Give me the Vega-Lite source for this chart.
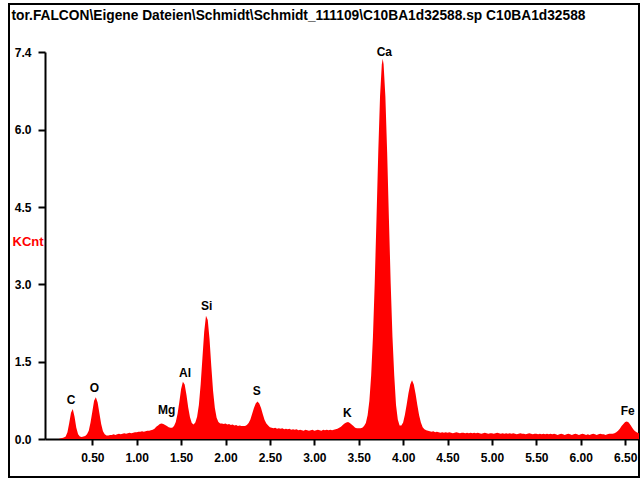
{
"$schema": "https://vega.github.io/schema/vega-lite/v6.json",
"width": 630, "height": 473,
"autosize": {"type": "none"},
"padding": {"left": 9, "top": 4, "right": 3, "bottom": 2},
"background": "white",
"config": {"view": {"stroke": "#000000", "strokeWidth": 2}, "font": "Liberation Sans"},
"resolve": {"axis": {"x": "independent"}},
"layer": [
{"data": {"values": [
{"e":0.12,"c":0.00},{"e":0.14,"c":0.01},{"e":0.16,"c":0.02},{"e":0.18,"c":0.03},{"e":0.20,"c":0.05},{"e":0.22,"c":0.13},{"e":0.24,"c":0.31},{"e":0.26,"c":0.51},{"e":0.28,"c":0.58},{"e":0.30,"c":0.43},{"e":0.32,"c":0.22},{"e":0.34,"c":0.09},{"e":0.36,"c":0.05},{"e":0.38,"c":0.04},{"e":0.40,"c":0.05},
{"e":0.42,"c":0.06},{"e":0.44,"c":0.09},{"e":0.46,"c":0.16},{"e":0.48,"c":0.32},{"e":0.50,"c":0.53},{"e":0.52,"c":0.74},{"e":0.54,"c":0.81},{"e":0.56,"c":0.71},{"e":0.58,"c":0.50},{"e":0.60,"c":0.29},{"e":0.62,"c":0.15},{"e":0.64,"c":0.09},{"e":0.66,"c":0.07},{"e":0.68,"c":0.07},{"e":0.70,"c":0.08},
{"e":0.72,"c":0.08},{"e":0.74,"c":0.09},{"e":0.76,"c":0.08},{"e":0.78,"c":0.09},{"e":0.80,"c":0.10},{"e":0.82,"c":0.09},{"e":0.84,"c":0.10},{"e":0.86,"c":0.11},{"e":0.88,"c":0.10},{"e":0.90,"c":0.11},{"e":0.92,"c":0.12},{"e":0.94,"c":0.11},{"e":0.96,"c":0.12},{"e":0.98,"c":0.13},{"e":1.00,"c":0.13},{"e":1.02,"c":0.14},{"e":1.04,"c":0.14},{"e":1.06,"c":0.15},{"e":1.08,"c":0.14},{"e":1.10,"c":0.15},{"e":1.12,"c":0.16},{"e":1.14,"c":0.16},{"e":1.16,"c":0.17},{"e":1.18,"c":0.18},
{"e":1.20,"c":0.20},{"e":1.22,"c":0.24},{"e":1.24,"c":0.26},{"e":1.26,"c":0.29},{"e":1.28,"c":0.30},{"e":1.30,"c":0.29},{"e":1.32,"c":0.27},{"e":1.34,"c":0.25},{"e":1.36,"c":0.23},{"e":1.38,"c":0.22},
{"e":1.40,"c":0.22},{"e":1.42,"c":0.25},{"e":1.44,"c":0.33},{"e":1.46,"c":0.49},{"e":1.48,"c":0.72},{"e":1.50,"c":0.97},{"e":1.52,"c":1.11},{"e":1.54,"c":1.06},{"e":1.56,"c":0.86},{"e":1.58,"c":0.61},{"e":1.60,"c":0.42},{"e":1.62,"c":0.31},{"e":1.64,"c":0.28},{"e":1.66,"c":0.32},{"e":1.68,"c":0.43},{"e":1.70,"c":0.66},{"e":1.72,"c":1.06},{"e":1.74,"c":1.57},{"e":1.76,"c":2.08},{"e":1.78,"c":2.39},{"e":1.80,"c":2.31},{"e":1.82,"c":1.94},{"e":1.84,"c":1.41},{"e":1.86,"c":0.93},{"e":1.88,"c":0.60},{"e":1.90,"c":0.41},{"e":1.92,"c":0.33},{"e":1.94,"c":0.30},
{"e":1.96,"c":0.30},{"e":1.98,"c":0.29},{"e":2.00,"c":0.30},{"e":2.02,"c":0.28},{"e":2.04,"c":0.29},{"e":2.06,"c":0.27},{"e":2.08,"c":0.28},{"e":2.10,"c":0.26},{"e":2.12,"c":0.27},{"e":2.14,"c":0.25},{"e":2.16,"c":0.26},{"e":2.18,"c":0.25},{"e":2.20,"c":0.25},
{"e":2.22,"c":0.25},{"e":2.24,"c":0.27},{"e":2.26,"c":0.31},{"e":2.28,"c":0.38},{"e":2.30,"c":0.49},{"e":2.32,"c":0.60},{"e":2.34,"c":0.69},{"e":2.36,"c":0.73},{"e":2.38,"c":0.69},{"e":2.40,"c":0.60},{"e":2.42,"c":0.48},{"e":2.44,"c":0.37},{"e":2.46,"c":0.30},{"e":2.48,"c":0.26},{"e":2.50,"c":0.23},{"e":2.52,"c":0.22},
{"e":2.54,"c":0.21},{"e":2.56,"c":0.22},{"e":2.58,"c":0.20},{"e":2.60,"c":0.21},{"e":2.62,"c":0.20},{"e":2.64,"c":0.21},{"e":2.66,"c":0.19},{"e":2.68,"c":0.20},{"e":2.70,"c":0.19},{"e":2.72,"c":0.20},{"e":2.74,"c":0.18},{"e":2.76,"c":0.19},{"e":2.78,"c":0.18},{"e":2.80,"c":0.19},{"e":2.82,"c":0.17},{"e":2.84,"c":0.18},{"e":2.86,"c":0.17},{"e":2.88,"c":0.16},{"e":2.90,"c":0.18},{"e":2.92,"c":0.17},{"e":2.94,"c":0.16},{"e":2.96,"c":0.17},{"e":2.98,"c":0.18},{"e":3.00,"c":0.16},{"e":3.02,"c":0.17},{"e":3.04,"c":0.18},{"e":3.06,"c":0.17},{"e":3.08,"c":0.16},{"e":3.10,"c":0.18},{"e":3.12,"c":0.17},{"e":3.14,"c":0.18},{"e":3.16,"c":0.17},{"e":3.18,"c":0.18},{"e":3.20,"c":0.17},{"e":3.22,"c":0.18},{"e":3.24,"c":0.19},
{"e":3.26,"c":0.20},{"e":3.28,"c":0.22},{"e":3.30,"c":0.24},{"e":3.32,"c":0.27},{"e":3.34,"c":0.30},{"e":3.36,"c":0.32},{"e":3.38,"c":0.33},{"e":3.40,"c":0.31},{"e":3.42,"c":0.28},{"e":3.44,"c":0.25},{"e":3.46,"c":0.22},{"e":3.48,"c":0.21},
{"e":3.50,"c":0.21},{"e":3.52,"c":0.21},{"e":3.54,"c":0.22},{"e":3.56,"c":0.25},{"e":3.58,"c":0.31},{"e":3.60,"c":0.46},{"e":3.62,"c":0.74},{"e":3.64,"c":1.23},{"e":3.66,"c":1.98},{"e":3.68,"c":3.02},{"e":3.70,"c":4.27},{"e":3.72,"c":5.57},{"e":3.74,"c":6.65},{"e":3.76,"c":7.27},{"e":3.77,"c":7.38},{"e":3.78,"c":7.27},{"e":3.80,"c":6.65},{"e":3.82,"c":5.57},{"e":3.84,"c":4.27},{"e":3.86,"c":3.02},{"e":3.88,"c":1.98},{"e":3.90,"c":1.23},{"e":3.92,"c":0.66},{"e":3.94,"c":0.38},{"e":3.96,"c":0.26},{"e":3.98,"c":0.26},{"e":4.00,"c":0.32},
{"e":4.02,"c":0.47},{"e":4.04,"c":0.67},{"e":4.06,"c":0.89},{"e":4.08,"c":1.06},{"e":4.10,"c":1.14},{"e":4.12,"c":1.06},{"e":4.14,"c":0.88},{"e":4.16,"c":0.66},{"e":4.18,"c":0.46},{"e":4.20,"c":0.32},{"e":4.22,"c":0.23},{"e":4.24,"c":0.19},{"e":4.26,"c":0.17},
{"e":4.28,"c":0.16},{"e":4.30,"c":0.15},{"e":4.32,"c":0.14},{"e":4.34,"c":0.15},{"e":4.36,"c":0.13},{"e":4.38,"c":0.14},{"e":4.40,"c":0.13},{"e":4.42,"c":0.12},{"e":4.44,"c":0.13},{"e":4.46,"c":0.12},{"e":4.48,"c":0.13},{"e":4.50,"c":0.12},{"e":4.52,"c":0.13},{"e":4.54,"c":0.12},{"e":4.56,"c":0.11},{"e":4.58,"c":0.12},{"e":4.60,"c":0.13},{"e":4.62,"c":0.12},{"e":4.64,"c":0.11},{"e":4.66,"c":0.12},{"e":4.68,"c":0.12},{"e":4.70,"c":0.11},{"e":4.72,"c":0.12},{"e":4.74,"c":0.11},{"e":4.76,"c":0.12},{"e":4.78,"c":0.11},{"e":4.80,"c":0.12},{"e":4.82,"c":0.11},{"e":4.84,"c":0.12},{"e":4.86,"c":0.11},{"e":4.88,"c":0.10},{"e":4.90,"c":0.11},{"e":4.92,"c":0.12},{"e":4.94,"c":0.11},{"e":4.96,"c":0.10},{"e":4.98,"c":0.11},
{"e":5.00,"c":0.11},{"e":5.02,"c":0.10},{"e":5.04,"c":0.11},{"e":5.06,"c":0.12},{"e":5.08,"c":0.11},{"e":5.10,"c":0.10},{"e":5.12,"c":0.11},{"e":5.14,"c":0.10},{"e":5.16,"c":0.11},{"e":5.18,"c":0.10},{"e":5.20,"c":0.11},{"e":5.22,"c":0.10},{"e":5.24,"c":0.11},{"e":5.26,"c":0.10},{"e":5.28,"c":0.09},{"e":5.30,"c":0.10},{"e":5.32,"c":0.11},{"e":5.34,"c":0.10},{"e":5.36,"c":0.10},{"e":5.38,"c":0.09},{"e":5.40,"c":0.10},{"e":5.42,"c":0.11},{"e":5.44,"c":0.10},{"e":5.46,"c":0.09},{"e":5.48,"c":0.10},
{"e":5.50,"c":0.10},{"e":5.52,"c":0.09},{"e":5.54,"c":0.10},{"e":5.56,"c":0.09},{"e":5.58,"c":0.10},{"e":5.60,"c":0.09},{"e":5.62,"c":0.10},{"e":5.64,"c":0.09},{"e":5.66,"c":0.10},{"e":5.68,"c":0.09},{"e":5.70,"c":0.10},{"e":5.72,"c":0.09},{"e":5.74,"c":0.08},{"e":5.76,"c":0.09},{"e":5.78,"c":0.10},{"e":5.80,"c":0.09},{"e":5.82,"c":0.08},{"e":5.84,"c":0.09},{"e":5.86,"c":0.10},{"e":5.88,"c":0.09},{"e":5.90,"c":0.08},{"e":5.92,"c":0.09},{"e":5.94,"c":0.10},{"e":5.96,"c":0.09},{"e":5.98,"c":0.08},
{"e":6.00,"c":0.09},{"e":6.02,"c":0.10},{"e":6.04,"c":0.09},{"e":6.06,"c":0.08},{"e":6.08,"c":0.09},{"e":6.10,"c":0.08},{"e":6.12,"c":0.09},{"e":6.14,"c":0.10},{"e":6.16,"c":0.09},{"e":6.18,"c":0.08},{"e":6.20,"c":0.09},{"e":6.22,"c":0.10},{"e":6.24,"c":0.09},{"e":6.26,"c":0.09},{"e":6.28,"c":0.08},{"e":6.30,"c":0.09},{"e":6.32,"c":0.10},{"e":6.34,"c":0.10},
{"e":6.36,"c":0.10},{"e":6.38,"c":0.11},{"e":6.40,"c":0.13},{"e":6.42,"c":0.16},{"e":6.44,"c":0.20},{"e":6.46,"c":0.25},{"e":6.48,"c":0.29},{"e":6.50,"c":0.33},{"e":6.52,"c":0.34},{"e":6.54,"c":0.32},{"e":6.56,"c":0.27},{"e":6.58,"c":0.22},{"e":6.60,"c":0.17},{"e":6.62,"c":0.14},{"e":6.64,"c":0.12},{"e":6.66,"c":0.11}
]},
"mark": {"type": "area", "color": "#ff0000", "clip": true, "interpolate": "linear"},
"encoding": {
"x": {"field": "e", "type": "quantitative", "scale": {"domain": [-0.0327, 6.656], "range": [36, 630], "nice": false, "zero": false},
 "axis": {"orient": "bottom", "offset": -38, "values": [0.5,1,1.5,2,2.5,3,3.5,4,4.5,5,5.5,6,6.5], "format": ".2f", "title": null, "grid": false, "domainColor": "#000000", "domainWidth": 2, "tickColor": "#000000", "tickWidth": 2, "tickSize": 6, "labelFont": "Liberation Sans", "labelFontSize": 12, "labelFontWeight": "bold", "labelColor": "#000000", "labelPadding": 7, "labelFlush": false, "labelOverlap": false}},
"y": {"field": "c", "type": "quantitative", "scale": {"domain": [0, 7.51], "range": [435, 48], "nice": false},
 "axis": {"orient": "left", "offset": -36, "values": [0,1.5,3,4.5,6,7.51], "labelExpr": "datum.value > 7 ? '7.4' : format(datum.value, '.1f')", "title": "KCnt", "titleColor": "#ff0000", "titleFont": "Liberation Sans", "titleFontSize": 13, "titleFontWeight": "bold", "titleAngle": 0, "titleAlign": "left", "titleBaseline": "middle", "titleX": -33, "titleY": 237, "grid": false, "domainColor": "#000000", "domainWidth": 2, "tickColor": "#000000", "tickWidth": 2, "tickSize": 7, "labelFont": "Liberation Sans", "labelFontSize": 12, "labelFontWeight": "bold", "labelColor": "#000000", "labelPadding": 7, "labelFlush": false, "labelOverlap": false}}
}},
{"data": {"values": [
{"el":"C","e":0.26,"c":0.58},{"el":"O","e":0.523,"c":0.815},{"el":"Mg","e":1.338,"c":0.38},{"el":"Al","e":1.544,"c":1.11},{"el":"Si","e":1.788,"c":2.40},{"el":"S","e":2.351,"c":0.757},{"el":"K","e":3.372,"c":0.335},{"el":"Ca","e":3.788,"c":7.34},{"el":"Fe","e":6.529,"c":0.37}
]},
"mark": {"type": "text", "dy": -5, "baseline": "alphabetic", "align": "center", "fontSize": 12, "fontWeight": "bold", "font": "Liberation Sans", "color": "#000000"},
"encoding": {
"x": {"field": "e", "type": "quantitative", "axis": {"orient": "top", "domain": false, "ticks": false, "labels": false, "grid": false, "title": "tor.FALCON\\Eigene Dateien\\Schmidt\\Schmidt_111109\\C10BA1d32588.sp C10BA1d32588", "titleX": 2, "titleY": 15, "titleAlign": "left", "titleBaseline": "alphabetic", "titleAngle": 0, "titleFont": "Liberation Sans", "titleFontSize": 13.75, "titleFontWeight": "bold", "titleColor": "#000000"}},
"y": {"field": "c", "type": "quantitative"},
"text": {"field": "el"}}}
]
}
